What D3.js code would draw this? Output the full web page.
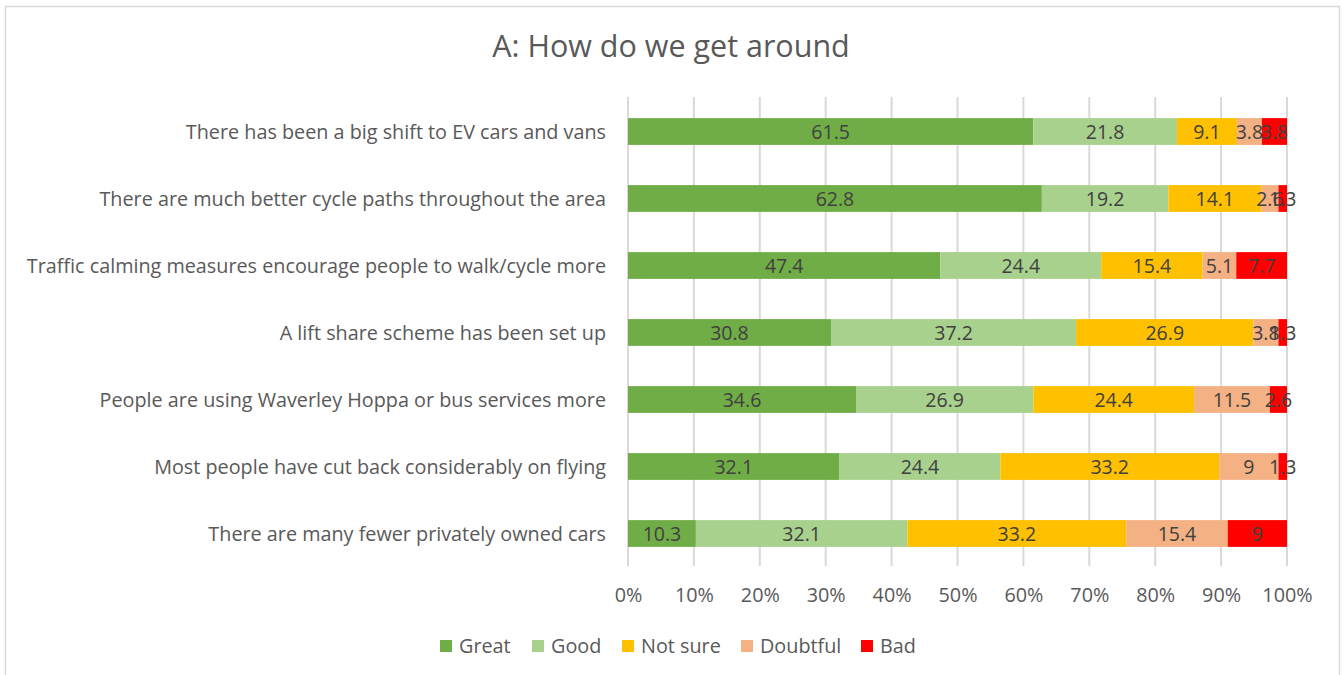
<!DOCTYPE html>
<html lang="en">
<head>
<meta charset="utf-8">
<title>A: How do we get around</title>
<script src="https://d3js.org/d3.v7.min.js"></script>
<style>
  body { margin: 0; background: #fff; }
  text { font-family: "Open Sans", "Liberation Sans", sans-serif; fill: #595959; }
</style>
</head>
<body>
<script>
const categories = [
  "There has been a big shift to EV cars and vans",
  "There are much better cycle paths throughout the area",
  "Traffic calming measures encourage people to walk/cycle more",
  "A lift share scheme has been set up",
  "People are using Waverley Hoppa or bus services more ",
  "Most people have cut back considerably on flying",
  "There are many fewer privately owned cars"
];
const seriesNames = ["Great", "Good", "Not sure", "Doubtful", "Bad"];
const great    = [61.5, 62.8, 47.4, 30.8, 34.6, 32.1, 10.3];
const good     = [21.8, 19.2, 24.4, 37.2, 26.9, 24.4, 32.1];
const notSure  = [9.1, 14.1, 15.4, 26.9, 24.4, 33.2, 33.2];
const doubtful = [3.8, 2.6, 5.1, 3.8, 11.5, 9, 15.4];
const bad      = [3.8, 1.3, 7.7, 1.3, 2.6, 1.3, 9];
const tickLabels = ["0%", "10%", "20%", "30%", "40%", "50%", "60%", "70%", "80%", "90%", "100%"];
const colors = ["#70AD47", "#A9D18E", "#FFC000", "#F4B183", "#FF0000"];

const w = 1342, h = 675;
const plotLeft = 628, plotRight = 1287, plotTop = 97, plotBottom = 566;

const svg = d3.select("body").append("svg")
  .attr("width", w).attr("height", h);

// chart frame
svg.append("rect")
  .attr("x", 5.5).attr("y", 6.5)
  .attr("width", 1334).attr("height", 680)
  .attr("fill", "#fff").attr("stroke", "#d9d9d9").attr("stroke-width", 1.5);

const rows = categories.map((c, i) => {
  const vals = [great[i], good[i], notSure[i], doubtful[i], bad[i]];
  const total = d3.sum(vals);
  const r = { cat: c };
  seriesNames.forEach((s, j) => r[s] = vals[j] / total);
  r.raw = vals;
  return r;
});

const x = d3.scaleLinear().domain([0, 1]).range([plotLeft, plotRight]);
const y = d3.scaleBand().domain(categories).range([plotTop, plotBottom]).paddingInner(0.6).paddingOuter(0.3);

// gridlines
svg.append("g").selectAll("line")
  .data(d3.range(0, 1.0001, 0.1))
  .join("line")
  .attr("x1", d => x(d)).attr("x2", d => x(d))
  .attr("y1", plotTop).attr("y2", plotBottom)
  .attr("stroke", "#d9d9d9").attr("stroke-width", 2);

const stack = d3.stack().keys(seriesNames)(rows);

const layers = svg.append("g").selectAll("g")
  .data(stack)
  .join("g")
  .attr("fill", (d, i) => colors[i]);

layers.selectAll("rect")
  .data(d => d)
  .join("rect")
  .attr("x", d => x(d[0]))
  .attr("y", d => y(d.data.cat) + 1)
  .attr("width", d => x(d[1]) - x(d[0]))
  .attr("height", y.bandwidth());

// value labels
stack.forEach((layer, j) => {
  svg.append("g").selectAll("text")
    .data(layer)
    .join("text")
    .attr("x", d => (x(d[0]) + x(d[1])) / 2)
    .attr("y", d => y(d.data.cat) + 1 + y.bandwidth() / 2)
    .attr("dy", "0.36em")
    .attr("text-anchor", "middle")
    .style("font-size", "19.5px")
    .style("fill", "#404040")
    .text(d => d.data.raw[j]);
});

// category axis labels
svg.append("g").selectAll("text")
  .data(categories)
  .join("text")
  .attr("x", 606)
  .attr("y", d => y(d) + 1 + y.bandwidth() / 2)
  .attr("dy", "0.36em")
  .attr("text-anchor", "end")
  .style("font-size", "19.8px")
  .text(d => d);

// x axis tick labels
const xAxis = d3.axisBottom(x)
  .tickValues(d3.range(0, 1.0001, 0.1))
  .tickFormat((d, i) => tickLabels[i])
  .tickSize(0)
  .tickPadding(0);
const gx = svg.append("g")
  .attr("transform", "translate(0," + (plotBottom + 22) + ")")
  .call(xAxis);
gx.select(".domain").remove();
gx.selectAll("text")
  .attr("fill", null)
  .style("font-size", "19.8px");

// title
svg.append("text")
  .attr("x", 671).attr("y", 57)
  .attr("text-anchor", "middle")
  .style("font-size", "30.5px")
  .text("A: How do we get around");

// legend
const legendX = [440, 532, 622, 741, 861];
const legend = svg.append("g").selectAll("g")
  .data(seriesNames)
  .join("g")
  .attr("transform", (d, i) => "translate(" + legendX[i] + ",646)");
legend.append("rect")
  .attr("x", 0).attr("y", -6)
  .attr("width", 12).attr("height", 12)
  .attr("fill", (d, i) => colors[i]);
legend.append("text")
  .attr("x", 19).attr("dy", "0.36em")
  .style("font-size", "19.8px")
  .text(d => d);
</script>
</body>
</html>
